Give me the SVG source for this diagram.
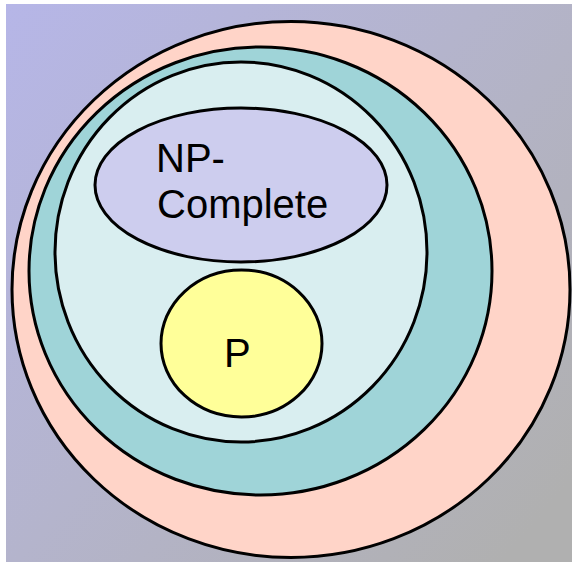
<svg xmlns="http://www.w3.org/2000/svg" width="572" height="562" viewBox="0 0 572 562">
  <defs>
    <linearGradient id="bg" x1="0" y1="0" x2="572" y2="480" gradientUnits="userSpaceOnUse">
      <stop offset="0" stop-color="#b6b6e8"/>
      <stop offset="0.5" stop-color="#b4b4cc"/>
      <stop offset="1" stop-color="#b0b0b0"/>
    </linearGradient>
    <style>
      .set { stroke: #000; stroke-width: 3; }
      .lbl { font-family: "Liberation Sans", Arial, sans-serif; font-size: 40px; fill: #000; }
    </style>
  </defs>
  <rect x="0" y="0" width="572" height="562" fill="#ffffff"/>
  <rect x="6" y="4" width="566" height="558" fill="url(#bg)"/>
  <g id="np-hard">
    <ellipse class="set" cx="291" cy="289.5" rx="279" ry="268" fill="#ffd4c8"/>
  </g>
  <g id="np">
    <ellipse class="set" cx="260.5" cy="271" rx="231.5" ry="224" fill="#9fd4d8"/>
  </g>
  <g id="np-inner">
    <ellipse class="set" cx="241" cy="252" rx="186" ry="190" fill="#d9eef0"/>
  </g>
  <g id="np-complete">
    <ellipse class="set" cx="241" cy="185" rx="146" ry="77" fill="#cdcdee"/>
    <text class="lbl" x="156" y="172">NP-</text>
    <text class="lbl" x="157" y="218">Complete</text>
  </g>
  <g id="p">
    <ellipse class="set" cx="241.5" cy="343.5" rx="80.5" ry="73.5" fill="#ffff99"/>
    <text class="lbl" x="224" y="367">P</text>
  </g>
  <g id="connectors"/>
</svg>
